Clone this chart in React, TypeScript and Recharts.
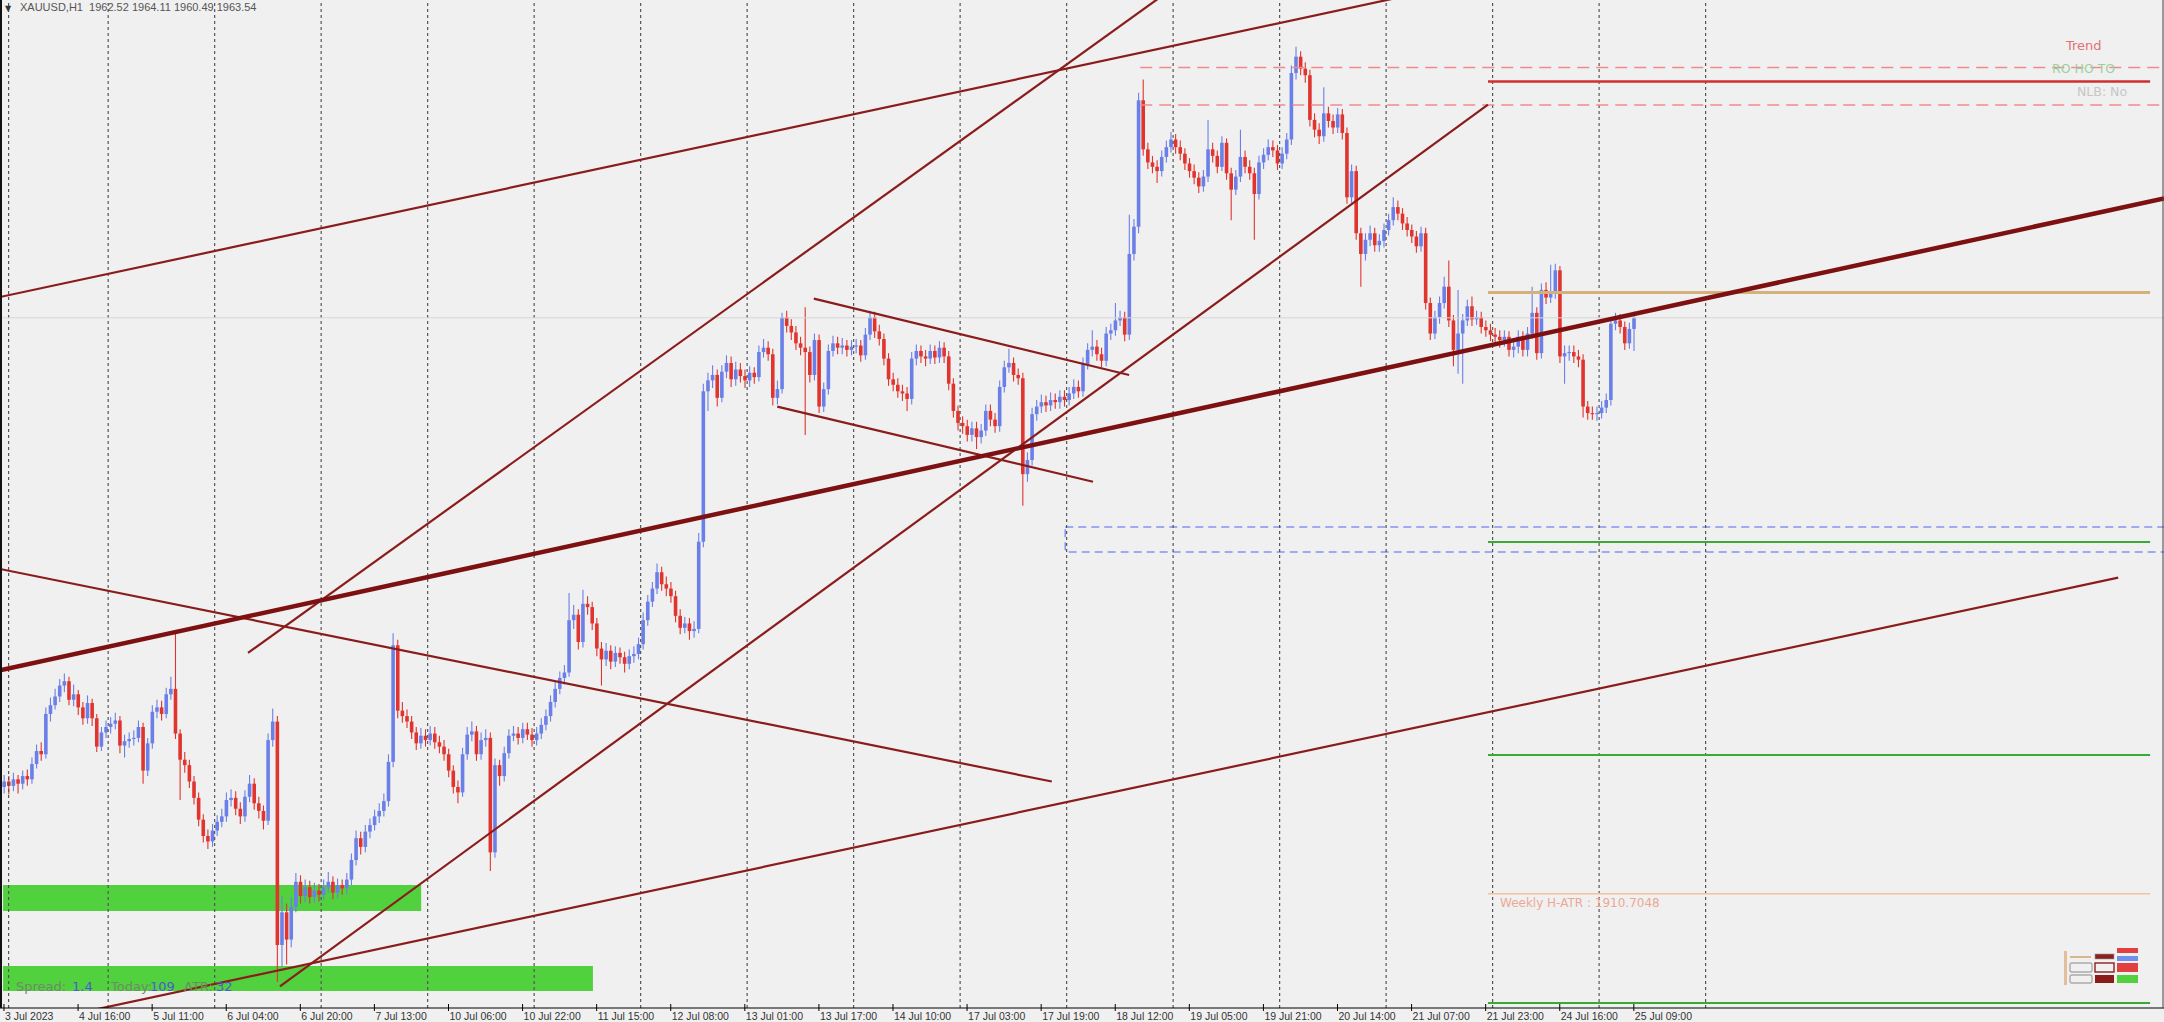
import React from 'react';
import { ComposedChart, Bar, XAxis, YAxis, ReferenceLine, ReferenceArea } from 'recharts';

const W = 2164;
const H = 1022;
const BG = '#f0f0f0';
const UP = '#6b7fe8';
const DOWN = '#e0352f';
const LINE = '#8b1c1c';

const SYMBOL = 'XAUUSD,H1';
const FIRST_OPEN = 1920.5;

const closes = [
  1921.0,1920.6,1921.2,1920.8,1921.5,1921.2,1922.6,1923.8,1923.5,1927.2,
  1928.0,1928.8,1929.8,1930.2,1928.5,1929.0,1927.8,1926.8,1928.2,1926.8,
  1924.2,1925.5,1926.0,1926.3,1926.6,1924.3,1924.7,1924.9,1925.0,1926.0,
  1922.0,1924.5,1927.4,1927.8,1927.2,1929.0,1929.5,1925.4,1923.0,1922.5,
  1921.0,1919.5,1917.5,1916.0,1915.5,1916.5,1917.3,1917.8,1919.3,1919.5,
  1918.5,1917.8,1919.6,1920.8,1919.0,1918.3,1917.4,1924.8,1926.5,1906.0,
  1909.0,1906.5,1909.5,1911.8,1910.5,1911.3,1910.4,1911.0,1910.6,1911.3,
  1911.8,1910.8,1911.5,1911.2,1912.0,1913.8,1915.8,1915.0,1916.4,1917.0,
  1917.8,1918.3,1919.2,1922.8,1933.5,1927.5,1927.0,1926.5,1925.5,1924.5,
  1925.2,1924.8,1925.4,1924.6,1924.2,1923.5,1922.0,1920.5,1920.0,1923.5,
  1925.3,1925.6,1923.5,1924.8,1925.0,1914.5,1922.5,1921.5,1923.6,1925.2,
  1925.4,1925.0,1925.8,1925.3,1924.8,1925.4,1926.2,1927.0,1928.3,1929.5,
  1930.5,1931.0,1935.8,1936.3,1933.8,1937.3,1937.0,1935.5,1933.2,1932.2,
  1933.0,1932.0,1932.8,1932.4,1931.8,1932.5,1932.7,1933.6,1935.8,1937.5,
  1938.7,1940.2,1939.1,1938.7,1938.0,1936.2,1935.1,1935.5,1934.8,1935.0,
  1943.0,1956.8,1957.8,1958.3,1956.2,1958.6,1959.4,1957.9,1958.8,1958.2,
  1957.8,1958.5,1958.1,1960.4,1960.8,1960.2,1956.2,1957.0,1963.6,1962.8,
  1962.2,1961.2,1960.8,1960.4,1958.3,1961.5,1955.4,1957.0,1960.5,1961.2,
  1960.8,1961.0,1960.6,1960.9,1961.0,1960.1,1962.0,1963.6,1962.3,1961.6,
  1959.8,1957.9,1957.4,1956.8,1956.6,1956.1,1959.8,1960.5,1960.0,1959.8,
  1960.5,1959.9,1960.8,1960.0,1957.5,1955.0,1953.9,1953.6,1952.8,1953.4,
  1952.6,1953.2,1955.0,1954.2,1953.6,1957.2,1959.0,1959.4,1958.3,1958.0,
  1949.2,1950.5,1954.7,1955.4,1955.8,1955.5,1956.0,1955.8,1956.3,1956.0,
  1956.6,1957.2,1956.8,1959.3,1960.6,1960.9,1960.2,1959.6,1962.1,1962.4,
  1963.3,1963.6,1962.0,1969.4,1971.9,1983.5,1979.0,1977.8,1977.4,1977.0,
  1978.3,1979.2,1979.9,1979.2,1978.6,1977.7,1977.0,1976.4,1975.6,1976.5,
  1979.0,1978.4,1977.4,1979.6,1976.8,1975.3,1976.5,1978.3,1977.4,1976.8,
  1974.9,1977.8,1978.5,1979.2,1978.9,1977.7,1978.6,1979.9,1986.0,1987.5,
  1986.4,1985.8,1981.7,1980.8,1980.2,1982.3,1981.6,1981.0,1982.2,1980.5,
  1974.6,1977.0,1971.3,1969.4,1970.7,1971.3,1970.2,1970.6,1971.6,1972.5,
  1973.7,1973.1,1972.2,1971.6,1971.0,1970.1,1971.3,1964.9,1962.1,1963.6,
  1964.9,1966.4,1963.3,1960.6,1962.1,1963.3,1964.6,1963.4,1963.6,1962.7,
  1962.4,1962.0,1961.8,1961.5,1961.8,1960.6,1960.9,1961.8,1960.6,1962.1,
  1964.0,1960.3,1966.1,1965.4,1965.8,1967.9,1960.0,1960.3,1960.4,1960.0,
  1959.7,1955.4,1954.8,1954.7,1954.8,1955.3,1956.0,1963.0,1963.3,1962.7,
  1961.2,1962.52,1963.54,
];

const highs = [
  1921.6,1921.5,1921.8,1921.6,1922.0,1922.1,1923.2,1924.4,1924.6,1927.8,
  1928.7,1929.5,1930.4,1930.9,1930.6,1929.9,1929.4,1928.3,1928.9,1928.6,
  1927.2,1926.0,1926.6,1926.9,1927.3,1927.0,1925.3,1925.5,1925.7,1926.6,
  1926.4,1925.0,1928.0,1928.5,1928.4,1929.6,1930.6,1934.9,1925.8,1923.7,
  1923.0,1921.5,1920.0,1918.0,1916.6,1917.1,1917.9,1918.5,1920.0,1920.3,
  1920.1,1919.1,1920.2,1921.6,1921.3,1919.6,1918.8,1925.4,1927.7,1927.0,
  1910.5,1909.8,1910.4,1912.6,1912.4,1912.0,1911.9,1911.7,1911.6,1912.0,
  1912.7,1912.3,1912.1,1912.0,1912.6,1914.4,1916.5,1916.4,1917.0,1917.6,
  1918.4,1919.0,1919.9,1923.5,1934.6,1934.0,1928.3,1927.6,1927.0,1926.0,
  1925.9,1925.8,1926.1,1926.0,1925.2,1924.8,1924.0,1922.5,1921.1,1924.1,
  1926.0,1926.5,1926.1,1925.5,1925.8,1925.5,1923.1,1923.0,1924.2,1925.8,
  1926.1,1926.0,1926.4,1926.4,1925.9,1926.0,1926.8,1927.6,1928.9,1930.1,
  1931.1,1931.7,1938.3,1937.2,1936.8,1938.6,1938.0,1937.5,1936.0,1933.8,
  1933.7,1933.5,1933.4,1933.3,1932.9,1933.1,1933.4,1934.2,1936.5,1938.1,
  1939.3,1941.0,1940.7,1939.8,1939.3,1938.5,1936.8,1936.1,1936.0,1935.7,
  1943.8,1957.5,1958.5,1959.2,1958.8,1959.2,1960.1,1960.0,1959.5,1959.4,
  1958.8,1959.1,1959.0,1961.0,1961.6,1961.4,1960.7,1957.8,1964.0,1964.2,
  1963.4,1962.8,1961.8,1964.5,1960.9,1962.1,1962.0,1957.6,1961.1,1961.9,
  1961.8,1961.7,1961.5,1961.5,1961.6,1961.5,1962.6,1964.2,1964.1,1962.9,
  1962.1,1960.3,1958.5,1958.0,1957.4,1957.2,1960.4,1961.1,1961.0,1960.6,
  1961.1,1961.0,1961.4,1961.3,1960.5,1958.0,1955.5,1954.5,1954.2,1954.0,
  1954.0,1953.8,1955.6,1955.6,1954.8,1957.8,1959.6,1960.7,1959.9,1958.9,
  1958.5,1951.2,1955.3,1956.0,1956.5,1956.4,1956.7,1956.6,1956.9,1956.9,
  1957.2,1957.9,1957.8,1959.9,1961.2,1962.4,1961.5,1960.8,1962.7,1963.0,
  1964.9,1964.2,1964.1,1973.0,1972.6,1984.2,1985.4,1979.6,1978.4,1978.0,
  1978.9,1979.8,1980.6,1980.4,1979.8,1979.1,1978.2,1977.6,1976.9,1977.1,
  1981.7,1979.6,1978.9,1980.2,1980.0,1977.3,1977.1,1980.8,1978.9,1978.0,
  1977.3,1978.4,1979.1,1979.9,1979.8,1979.4,1979.2,1980.5,1986.7,1988.4,
  1988.0,1987.0,1986.3,1982.3,1981.4,1984.7,1982.9,1982.2,1982.8,1982.7,
  1981.0,1977.6,1977.5,1971.8,1971.3,1972.0,1971.8,1971.2,1972.2,1973.1,
  1974.6,1974.3,1973.6,1972.8,1972.1,1971.5,1971.9,1971.8,1965.4,1964.2,
  1965.5,1967.3,1968.8,1963.8,1966.1,1963.9,1965.2,1965.5,1964.2,1964.1,
  1963.3,1963.0,1962.6,1962.4,1962.4,1962.3,1961.5,1962.4,1962.3,1962.7,
  1966.4,1964.5,1966.7,1966.8,1968.4,1968.5,1968.3,1961.0,1961.0,1961.0,
  1960.6,1960.2,1955.9,1955.4,1955.4,1955.9,1956.6,1963.6,1964.0,1963.9,
  1963.2,1963.1,1964.11,
];

const lows = [
  1919.9,1919.8,1920.1,1919.9,1920.3,1920.6,1920.8,1922.2,1922.9,1923.1,
  1926.5,1927.6,1928.3,1929.2,1928.0,1927.9,1927.1,1926.2,1926.3,1926.1,
  1923.7,1923.8,1925.0,1925.4,1925.8,1923.6,1923.2,1924.1,1924.3,1924.6,
  1920.8,1921.5,1924.0,1926.8,1926.6,1926.8,1928.5,1924.9,1919.3,1921.8,
  1920.4,1918.9,1916.9,1915.4,1914.8,1915.0,1916.0,1916.8,1917.3,1918.7,
  1917.9,1917.1,1917.3,1919.1,1918.4,1917.6,1916.6,1917.0,1924.2,1902.6,
  1904.0,1904.2,1905.8,1909.0,1909.8,1909.9,1909.8,1909.9,1910.0,1910.1,
  1910.8,1910.2,1910.3,1910.6,1910.7,1911.5,1913.3,1914.3,1914.5,1915.8,
  1916.5,1917.2,1917.8,1918.7,1922.3,1926.8,1926.4,1925.9,1924.9,1923.9,
  1924.0,1924.2,1924.3,1924.0,1923.6,1922.9,1921.4,1919.9,1919.0,1919.6,
  1923.0,1924.7,1922.9,1923.0,1924.2,1912.8,1914.0,1920.6,1921.0,1923.1,
  1924.7,1924.4,1924.5,1924.8,1924.2,1924.3,1924.9,1925.7,1926.5,1927.8,
  1929.0,1929.9,1930.6,1935.0,1933.1,1933.3,1936.3,1934.9,1932.5,1929.8,
  1931.6,1931.3,1931.5,1931.8,1931.0,1931.3,1931.9,1932.2,1933.1,1935.3,
  1937.0,1938.2,1938.5,1938.0,1937.4,1935.6,1934.5,1934.6,1934.0,1934.2,
  1934.6,1942.5,1955.0,1957.1,1955.4,1955.8,1958.0,1957.2,1957.3,1957.6,
  1957.1,1957.2,1957.5,1957.7,1959.9,1959.6,1955.5,1955.6,1956.6,1962.2,
  1961.5,1960.6,1960.1,1952.8,1957.6,1957.8,1954.8,1954.9,1956.5,1960.0,
  1960.2,1960.2,1960.0,1960.1,1960.3,1959.5,1959.7,1961.5,1961.7,1961.0,
  1959.2,1957.3,1956.8,1956.2,1955.9,1955.0,1955.6,1959.2,1959.4,1959.1,
  1959.3,1959.3,1959.4,1959.4,1956.9,1954.4,1953.2,1952.9,1952.2,1952.2,
  1951.5,1952.0,1952.7,1953.6,1953.0,1953.1,1956.7,1958.5,1957.7,1957.4,
  1946.3,1948.5,1950.0,1954.1,1954.8,1954.9,1955.0,1955.2,1955.2,1955.4,
  1955.5,1956.1,1956.2,1956.3,1958.8,1960.0,1959.6,1959.0,1959.1,1961.5,
  1961.9,1962.8,1961.4,1961.5,1968.8,1971.3,1978.4,1977.2,1976.8,1975.9,
  1976.5,1977.8,1978.7,1978.6,1978.0,1977.1,1976.4,1975.8,1975.0,1975.1,
  1976.0,1977.8,1976.8,1977.0,1976.2,1972.5,1974.8,1976.0,1976.8,1976.2,
  1970.7,1974.4,1977.2,1978.0,1978.3,1977.1,1977.2,1978.1,1979.4,1985.4,
  1985.8,1985.1,1981.1,1980.1,1979.5,1979.7,1981.0,1980.4,1980.5,1979.9,
  1974.0,1974.1,1970.7,1966.4,1968.8,1970.1,1969.6,1969.6,1970.0,1971.1,
  1972.0,1972.5,1971.6,1971.0,1970.4,1969.5,1969.6,1964.3,1961.5,1961.6,
  1963.0,1964.4,1962.7,1959.1,1958.4,1957.5,1962.8,1962.8,1962.9,1962.1,
  1961.8,1961.4,1961.2,1960.8,1960.9,1960.0,1959.9,1960.3,1960.0,1960.0,
  1961.6,1959.7,1959.8,1964.8,1964.9,1965.3,1959.4,1957.5,1959.6,1959.4,
  1959.0,1954.4,1954.2,1954.2,1954.1,1954.3,1954.8,1955.5,1962.4,1962.1,
  1960.6,1960.7,1960.49,
];

const tickLabels = [
  '3 Jul 2023', '4 Jul 16:00', '5 Jul 11:00', '6 Jul 04:00', '6 Jul 20:00', '7 Jul 13:00',
  '10 Jul 06:00', '10 Jul 22:00', '11 Jul 15:00', '12 Jul 08:00', '13 Jul 01:00', '13 Jul 17:00',
  '14 Jul 10:00', '17 Jul 03:00', '17 Jul 19:00', '18 Jul 12:00', '19 Jul 05:00', '19 Jul 21:00',
  '20 Jul 14:00', '21 Jul 07:00', '21 Jul 23:00', '24 Jul 16:00', '25 Jul 09:00',
];
const TICK_STEP = 16;

const daySeparators = [1, 22.5, 45.5, 68.5, 91.5, 114.5, 137.5, 160.5, 183.5, 206.5, 229.5, 252.5, 275.5, 298.5, 321.5, 344.5, 367.5];

// trend lines: [bar index, price] endpoints
const thickTrend = { x1: -0.86, y1: 1931.2, x2: 466.5, y2: 1974.5 };
const thinTrends = [
  { x1: -0.86, y1: 1965.45, x2: 330, y2: 1995.55 },
  { x1: 52.7, y1: 1932.8, x2: 260, y2: 1996.1 },
  { x1: 59.6, y1: 1902.2, x2: 320.5, y2: 1983.1 },
  { x1: -0.86, y1: 1940.5, x2: 226.3, y2: 1921.0 },
  { x1: 7.8, y1: 1899.0, x2: 456.6, y2: 1939.7 },
  { x1: 174.9, y1: 1965.3, x2: 243.0, y2: 1958.3 },
  { x1: 167.0, y1: 1955.4, x2: 235.2, y2: 1948.5 },
];

const dashedLevels = [1986.5, 1983.07];
const DASHED_FROM = 245.4;
const LEVEL_FROM = 320.5;
const LEVEL_TO = 463.5;
const redLevel = 1985.23;
const goldLevel = 1965.86;
const greenLevels = [1942.97, 1923.43, 1900.68];
const atrValue = 1910.7048;
const blueZone = { x1: 229.2, x2: 472, y1: 1942.06, y2: 1944.35 };
const greenZones = [
  { x1: -0.2, x2: 90.1, y1: 1909.12, y2: 1911.5 },
  { x1: -0.2, x2: 127.2, y1: 1901.78, y2: 1904.07 },
];
const spreadInfo = { spread: '1.4', today: '109', atr: '32' };

const X_DOMAIN: [number, number] = [-0.86, 466.5];
const Y_DOMAIN: [number, number] = [1900.22, 1992.7];

const bars = closes.map((c, i) => ({
  i,
  o: i === 0 ? FIRST_OPEN : closes[i - 1],
  h: highs[i],
  l: lows[i],
  c,
}));
const tickValues = tickLabels.map((_, k) => k * TICK_STEP);
const last = bars[bars.length - 1];

const Candle = (props: any) => {
  const { x, y, width, height, payload } = props;
  if (!payload || y == null || height == null || isNaN(y)) return null;
  const { o, h, l, c } = payload;
  const up = c >= o;
  const color = up ? UP : DOWN;
  const k = h > l ? height / (h - l) : 0;
  const top = y + (h - Math.max(o, c)) * k;
  const bot = y + (h - Math.min(o, c)) * k;
  const cx = x + width / 2;
  return (
    <g>
      <line x1={cx} x2={cx} y1={y} y2={y + height} stroke={color} strokeWidth={1.1} />
      <rect x={cx - 1.8} y={top} width={3.6} height={Math.max(1, bot - top)} fill={color} />
    </g>
  );
};

const DateTick = (props: any) => {
  const { x, y, payload } = props;
  const label = tickLabels[Math.round(payload.value / TICK_STEP)];
  return (
    <g>
      <line x1={x} x2={x} y1={y - 4} y2={y + 3} stroke="#000" strokeWidth={1} />
      <text x={x + 1} y={y + 12} fontSize={10.5} fill="#333" fontFamily="Liberation Sans" textAnchor="start">
        {label}
      </text>
    </g>
  );
};

const AtrLabel = (props: any) => {
  const vb = props.viewBox || { x: 0, y: 0 };
  return (
    <text x={vb.x + 12} y={vb.y + 13} fontSize={12} fill="#eba896" fontFamily="DejaVu Sans">
      {`Weekly H-ATR : ${atrValue.toFixed(4)}`}
    </text>
  );
};

export default function App() {
  return (
    <div style={{ position: 'absolute', left: 0, top: 0, width: W, height: H, background: BG, overflow: 'hidden' }}>
      <ComposedChart width={W} height={H} data={bars} margin={{ top: 0, right: 0, bottom: 0, left: 0 }}>
        <XAxis
          dataKey="i"
          type="number"
          domain={X_DOMAIN}
          allowDataOverflow
          ticks={tickValues}
          interval={0}
          height={14}
          axisLine={{ stroke: '#000', strokeWidth: 1 }}
          tickLine={false}
          tickSize={0}
          tickMargin={0}
          tick={<DateTick />}
        />
        <YAxis hide type="number" domain={Y_DOMAIN} allowDataOverflow />
        {greenZones.map((z, k) => (
          <ReferenceArea key={'gz' + k} x1={z.x1} x2={z.x2} y1={z.y1} y2={z.y2} fill="#52d13e" fillOpacity={1} stroke="none" ifOverflow="hidden" />
        ))}
        {daySeparators.map((d) => (
          <ReferenceLine key={'sep' + d} x={d} stroke="#555" strokeWidth={1.2} strokeDasharray="3 3" />
        ))}
        <ReferenceLine y={last.c} stroke="#d6d6d6" strokeWidth={1} />
        <ReferenceArea
          x1={blueZone.x1}
          x2={blueZone.x2}
          y1={blueZone.y1}
          y2={blueZone.y2}
          fill="none"
          stroke="#8393f2"
          strokeWidth={1.5}
          strokeDasharray="8 5"
          ifOverflow="hidden"
        />
        {dashedLevels.map((lv) => (
          <ReferenceLine
            key={'dl' + lv}
            segment={[{ x: DASHED_FROM, y: lv }, { x: 470, y: lv }]}
            stroke="#ef8a8a"
            strokeWidth={1.5}
            strokeDasharray="12 7"
            ifOverflow="hidden"
          />
        ))}
        <ReferenceLine segment={[{ x: LEVEL_FROM, y: redLevel }, { x: LEVEL_TO, y: redLevel }]} stroke="#cf2f2f" strokeWidth={2.5} ifOverflow="hidden" />
        <ReferenceLine segment={[{ x: LEVEL_FROM, y: goldLevel }, { x: LEVEL_TO, y: goldLevel }]} stroke="#d2b27a" strokeWidth={3} ifOverflow="hidden" />
        {greenLevels.map((lv) => (
          <ReferenceLine key={'gl' + lv} segment={[{ x: LEVEL_FROM, y: lv }, { x: LEVEL_TO, y: lv }]} stroke="#3aa935" strokeWidth={2} ifOverflow="hidden" />
        ))}
        <ReferenceLine
          segment={[{ x: LEVEL_FROM, y: atrValue }, { x: LEVEL_TO, y: atrValue }]}
          stroke="#f2c49a"
          strokeWidth={1.5}
          ifOverflow="hidden"
          label={<AtrLabel />}
        />
        <Bar
          dataKey={(d: any) => [d.l, d.h]}
          barSize={3}
          isAnimationActive={false}
          shape={(p: any) => <Candle {...p} />}
        />
        {thinTrends.map((t, k) => (
          <ReferenceLine
            key={'tl' + k}
            segment={[{ x: t.x1, y: t.y1 }, { x: t.x2, y: t.y2 }]}
            stroke={LINE}
            strokeWidth={2.2}
            ifOverflow="hidden"
          />
        ))}
        <ReferenceLine
          segment={[{ x: thickTrend.x1, y: thickTrend.y1 }, { x: thickTrend.x2, y: thickTrend.y2 }]}
          stroke="#7d1010"
          strokeWidth={4.5}
          ifOverflow="hidden"
        />
      </ComposedChart>
      <svg width={W} height={H} style={{ position: 'absolute', left: 0, top: 0, pointerEvents: 'none' }}>
        <line x1={1} x2={1} y1={0} y2={1008} stroke="#111" strokeWidth={2} />
        <line x1={2163} x2={2163} y1={0} y2={1008} stroke="#444" strokeWidth={1} />
        <text x={5} y={11} fontSize={8} fill="#333" fontFamily="DejaVu Sans">▼</text>
        <text x={20} y={11} fontSize={11} fill="#555" fontFamily="Liberation Sans" style={{ whiteSpace: 'pre' }}>
          {`${SYMBOL}  ${last.o.toFixed(2)} ${last.h.toFixed(2)} ${last.l.toFixed(2)} ${last.c.toFixed(2)}`}
        </text>
        <text x={2066} y={50} fontSize={13} fill="#e07272" fontFamily="DejaVu Sans">Trend</text>
        <text x={2052} y={73} fontSize={12.5} fill="#9ad29a" fontFamily="DejaVu Sans" style={{ whiteSpace: 'pre' }}>RO HO TO</text>
        <text x={2077} y={96} fontSize={12.5} fill="#c6c6c6" fontFamily="DejaVu Sans">NLB: No</text>
        <text y={991} fontSize={13} fontFamily="DejaVu Sans">
          <tspan x={16} fill="#6f8a66">Spread:</tspan>
          <tspan x={72} fill="#4a5bd0">{spreadInfo.spread}</tspan>
          <tspan x={111} fill="#6f8a66">Today:</tspan>
          <tspan x={150} fill="#4a5bd0">{spreadInfo.today}</tspan>
          <tspan x={184} fill="#6f8a66">ATR:</tspan>
          <tspan x={216} fill="#4a5bd0">{spreadInfo.atr}</tspan>
        </text>
        <g>
          <rect x={2064} y={951} width={3} height={34} fill="#e2bf9a" />
          <rect x={2070} y={956} width={21} height={2} fill="#d8b88a" />
          <rect x={2095} y={954} width={19} height={5} fill="#8b2020" stroke="#999" strokeWidth={0.6} />
          <rect x={2117} y={948} width={21} height={5} fill="#e04040" />
          <rect x={2117} y={956} width={21} height={5} fill="#7090ee" />
          <rect x={2070} y={963} width={22} height={9} fill="none" stroke="#aaa" strokeWidth={1.4} rx={2} />
          <rect x={2095} y={963} width={19} height={9} fill="none" stroke="#8b2020" strokeWidth={1.4} />
          <rect x={2117} y={963} width={21} height={9} fill="#e04040" />
          <rect x={2070} y={975} width={22} height={8} fill="none" stroke="#aaa" strokeWidth={1.4} rx={2} />
          <rect x={2095} y={975} width={19} height={8} fill="#8b1a1a" />
          <rect x={2117} y={975} width={21} height={8} fill="#52d13e" />
        </g>
      </svg>
    </div>
  );
}
